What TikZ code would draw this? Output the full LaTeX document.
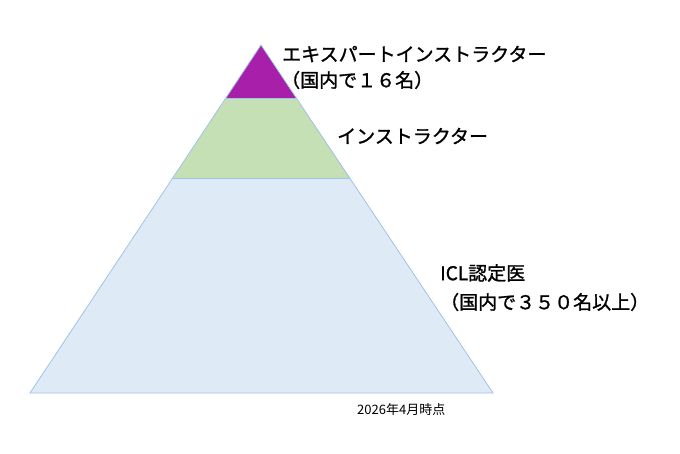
\documentclass[tikz,border=0pt]{standalone}
\usepackage{fontspec}
\newfontfamily\jpfont[FakeBold=1.2]{Noto Sans CJK JP}
\newfontfamily\jpnote{Noto Sans CJK JP}
\definecolor{topcol}{RGB}{168,32,170}
\definecolor{midcol}{RGB}{197,224,180}
\definecolor{lowcol}{RGB}{222,235,247}
\definecolor{edgecol}{RGB}{157,195,230}
\tikzset{layer/.style={draw=edgecol,line width=0.8pt}}
\tikzset{label/.style={font=\jpfont\fontsize{19}{23}\selectfont,anchor=west,inner sep=0pt}}
\tikzset{note/.style={font=\jpnote\fontsize{13}{15}\selectfont,anchor=west,inner sep=0pt}}
\begin{document}
\begin{tikzpicture}[x=1pt,y=-1pt]
\useasboundingbox (0,0) rectangle (680,453);
\coordinate (apex) at (261,45);
\coordinate (bl) at (30,393);
\coordinate (br) at (493,393);
\coordinate (t1) at (226,98);
\coordinate (t2) at (296,98);
\coordinate (m1) at (173,178);
\coordinate (m2) at (350,178);
\fill [lowcol] (m1) -- (m2) -- (br) -- (bl) -- cycle;
\fill [midcol] (t1) -- (t2) -- (m2) -- (m1) -- cycle;
\fill [topcol] (apex) -- (t2) -- (t1) -- cycle;
\draw [layer] (apex) -- (br) -- (bl) -- cycle;
\draw [layer] (t1) -- (t2);
\draw [layer] (m1) -- (m2);
\node [label] (expert) at (282,54) {エキスパートインストラクター};
\node [label] (expertnum) at (281,80) {（国内で１６名）};
\node [label] (instr) at (337,136) {インストラクター};
\node [label] (doctor) at (440,273) {ICL認定医};
\node [label] (doctornum) at (440,302) {（国内で３５０名以上）};
\node [note] (date) at (357,410) {2026年4月時点};
\end{tikzpicture}
\end{document}
